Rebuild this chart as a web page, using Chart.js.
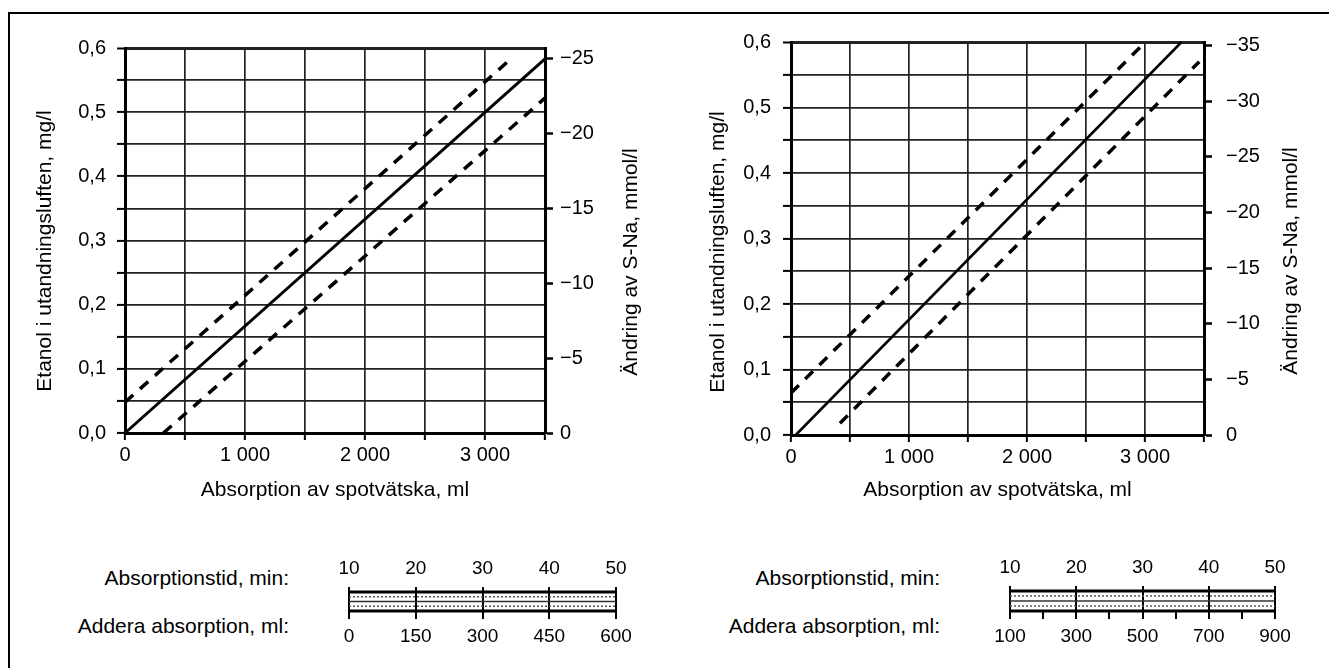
<!DOCTYPE html>
<html lang="sv">
<head>
<meta charset="utf-8">
<script src="https://cdn.jsdelivr.net/npm/chart.js@4.4.1/dist/chart.umd.min.js"></script>
<style>
  body { margin: 0; width: 1329px; height: 668px; background: #fff; position: relative; overflow: hidden;
         font-family: 'Liberation Sans', Arial, sans-serif; }
  .frame { position: absolute; left: 8px; top: 12px; width: 1340px; height: 680px; border: 2px solid #000; box-sizing: border-box; }
  .box { position: absolute; }
  .lbl { position: absolute; font-size: 21px; line-height: 24px; color: #000; text-align: right; white-space: nowrap; }
</style>
</head>
<body>
<div class="frame"></div>
<div class="box" style="left:0;top:0;width:660px;height:520px"><canvas id="chartA"></canvas></div>
<div class="box" style="left:666px;top:0;width:663px;height:520px"><canvas id="chartB"></canvas></div>
<div class="box" style="left:320px;top:530px;width:330px;height:135px"><canvas id="scaleA"></canvas></div>
<div class="box" style="left:980px;top:530px;width:330px;height:135px"><canvas id="scaleB"></canvas></div>
<div class="lbl" style="left:0;width:289px;top:566px">Absorptionstid, min:</div>
<div class="lbl" style="left:0;width:289px;top:614px">Addera absorption, ml:</div>
<div class="lbl" style="left:660px;width:280px;top:566px">Absorptionstid, min:</div>
<div class="lbl" style="left:660px;width:280px;top:614px">Addera absorption, ml:</div>
<script>
// x axis (ml) - labels every 1000, grid every 500
const mlTicks = [0, 1000, 2000, 3000];
const mlLabels = ['0', '1 000', '2 000', '3 000'];
const mlGrid = [0, 500, 1000, 1500, 2000, 2500, 3000, 3500];

// left y axis (mg/l)
const etanolTicks = [0, 0.1, 0.2, 0.3, 0.4, 0.5, 0.6];
const etanolLabels = ['0,0', '0,1', '0,2', '0,3', '0,4', '0,5', '0,6'];
const etanolGrid = [0, 0.05, 0.1, 0.15, 0.2, 0.25, 0.3, 0.35, 0.4, 0.45, 0.5, 0.55, 0.6];

// right y axis (mmol/l)
const snaTicksA = [0, -5, -10, -15, -20, -25];
const snaLabelsA = ['0', '\u22125', '\u221210', '\u221215', '\u221220', '\u221225'];
const snaTicksB = [0, -5, -10, -15, -20, -25, -30, -35];
const snaLabelsB = ['0', '\u22125', '\u221210', '\u221215', '\u221220', '\u221225', '\u221230', '\u221235'];
const snaTopA = -25.7;
const snaTopB = -35.3;

// lines, left chart
const solidA = [{ x: 0, y: 0 }, { x: 3500, y: 0.583 }];
const upperA = [{ x: 0, y: 0.048 }, { x: 3215, y: 0.583 }];
const lowerA = [{ x: 320, y: 0 }, { x: 3500, y: 0.522 }];

// lines, right chart
const solidB = [{ x: 40, y: 0 }, { x: 3310, y: 0.6 }];
const upperB = [{ x: 0, y: 0.064 }, { x: 2960, y: 0.592 }];
const lowerB = [{ x: 415, y: 0.018 }, { x: 3460, y: 0.57 }];

// nomogram scales under the charts
const timeTicks = [10, 20, 30, 40, 50];
const timeLabels = ['10', '20', '30', '40', '50'];
const addTicksA = [0, 150, 300, 450, 600];
const addLabelsA = ['0', '150', '300', '450', '600'];
const addGridA = [0, 150, 300, 450, 600];
const addTicksB = [100, 300, 500, 700, 900];
const addLabelsB = ['100', '300', '500', '700', '900'];
const addGridB = [100, 200, 300, 400, 500, 600, 700, 800, 900];
const bandLevels = [0, 1, 2, 3, 4];

Chart.defaults.font.family = "'Liberation Sans', Arial, sans-serif";
Chart.defaults.color = '#000';

function labelFor(ticks, labels, v) {
    const i = ticks.findIndex(t => Math.abs(t - v) < 1e-9);
    return i >= 0 ? labels[i] : '';
}

function setTicks(list) {
    return axis => { axis.ticks = list.map(v => ({ value: v })); };
}

function sideTitles(items) {
    return {
        id: 'sideTitles',
        afterDraw(chart) {
            const ctx = chart.ctx;
            ctx.save();
            ctx.font = "21px 'Liberation Sans', Arial, sans-serif";
            ctx.fillStyle = '#000';
            ctx.textAlign = 'center';
            ctx.textBaseline = 'middle';
            items.forEach(t => {
                ctx.save();
                ctx.translate(t.x, t.y);
                ctx.rotate(-Math.PI / 2);
                ctx.fillText(t.text, 0, 0);
                ctx.restore();
            });
            ctx.restore();
        }
    };
}

function lineSet(data, dashed, width) {
    return {
        data: data,
        borderColor: '#000',
        borderWidth: width,
        borderDash: dashed ? [11, 9] : [],
        pointRadius: 0,
        fill: false,
        clip: false
    };
}

function buildMain(id, c) {
    return new Chart(document.getElementById(id), {
        type: 'line',
        data: {
            datasets: [
                lineSet(c.solid, false, c.solidWidth),
                lineSet(c.upper, true, 3.5),
                lineSet(c.lower, true, 3.5)
            ]
        },
        options: {
            responsive: true,
            maintainAspectRatio: false,
            animation: false,
            layout: { padding: { top: c.top, left: 0, right: 0, bottom: 0 } },
            plugins: { legend: { display: false }, tooltip: { enabled: false } },
            scales: {
                x: {
                    type: 'linear', min: 0, max: 3500,
                    afterBuildTicks: setTicks(mlGrid),
                    afterFit: a => { a.height = c.xHeight; },
                    grid: { color: '#222', lineWidth: 1.7, tickLength: 7, tickColor: '#000', tickWidth: 2 },
                    border: { color: '#000', width: 3 },
                    ticks: { autoSkip: false, maxRotation: 0, padding: 3, font: { size: 20 },
                             callback: v => labelFor(mlTicks, mlLabels, v) },
                    title: { display: true, text: 'Absorption av spotvätska, ml', font: { size: 21 },
                             padding: { top: 0, bottom: 17 } }
                },
                y: {
                    position: 'left', min: 0, max: 0.6,
                    afterBuildTicks: setTicks(etanolGrid),
                    afterFit: a => { a.width = c.leftWidth; },
                    grid: {
                        color: '#222', tickColor: '#000', tickLength: 8, tickWidth: 2,
                        lineWidth: ctx => (ctx.tick && Math.abs(ctx.tick.value - 0.6) < 1e-9) ? 3 : 1.8
                    },
                    border: { color: '#000', width: 3 },
                    ticks: { padding: c.leftPad, font: { size: 20 },
                             callback: v => labelFor(etanolTicks, etanolLabels, v) }
                },
                y2: {
                    position: 'right', min: c.snaTop, max: 0, reverse: true,
                    afterBuildTicks: setTicks(c.snaTicks),
                    afterFit: a => { a.width = c.rightWidth; },
                    grid: { drawOnChartArea: false, color: '#000', tickLength: 8, tickWidth: 2.5 },
                    border: { color: '#000', width: 3 },
                    ticks: { padding: c.rightPad, font: { size: 20 },
                             callback: v => labelFor(c.snaTicks, c.snaLabels, v) }
                }
            }
        },
        plugins: [sideTitles(c.titles)]
    });
}

function buildScale(id, c) {
    const widths = [3, 1.5, 1.5, 1.5, 3];
    const dashes = [[], [2, 2], [], [2, 2], []];
    const colors = ['#000', '#555', '#333', '#555', '#000'];
    return new Chart(document.getElementById(id), {
        type: 'line',
        data: {
            datasets: bandLevels.map((lv, i) => ({
                data: [{ x: c.min, y: lv }, { x: c.max, y: lv }],
                borderColor: colors[i], borderWidth: widths[i], borderDash: dashes[i],
                pointRadius: 0, fill: false, clip: false
            }))
        },
        options: {
            responsive: true,
            maintainAspectRatio: false,
            animation: false,
            layout: { padding: { top: 0, left: c.padL, right: c.padR, bottom: 0 } },
            plugins: { legend: { display: false }, tooltip: { enabled: false } },
            scales: {
                x: {
                    type: 'linear', position: 'bottom', min: c.min, max: c.max,
                    afterBuildTicks: setTicks(c.grid),
                    afterFit: a => { a.height = c.bottomHeight; },
                    grid: { drawOnChartArea: false, color: '#000', lineWidth: 2, tickLength: 8 },
                    border: { display: false },
                    ticks: { autoSkip: false, maxRotation: 0, padding: 6, font: { size: 19 },
                             callback: v => labelFor(c.ticks, c.labels, v) }
                },
                x2: {
                    type: 'linear', position: 'top', min: 10, max: 50,
                    afterBuildTicks: setTicks(timeTicks),
                    afterFit: a => { a.height = c.topHeight; },
                    grid: { drawOnChartArea: true, color: '#000', lineWidth: 2, tickLength: 5 },
                    border: { display: false },
                    ticks: { autoSkip: false, maxRotation: 0, padding: 7, font: { size: 19 },
                             callback: v => labelFor(timeTicks, timeLabels, v) }
                },
                y: { display: false, min: 0, max: 4 }
            }
        }
    });
}

buildMain('chartA', {
    solid: solidA, upper: upperA, lower: lowerA, solidWidth: 3,
    top: 48, xHeight: 87, leftWidth: 125, rightWidth: 115, leftPad: 11, rightPad: 7,
    snaTop: snaTopA, snaTicks: snaTicksA, snaLabels: snaLabelsA,
    titles: [
        { text: 'Etanol i utandningsluften, mg/l', x: 45, y: 251 },
        { text: 'Ändring av S-Na, mmol/l', x: 631, y: 262 }
    ]
});

buildMain('chartB', {
    solid: solidB, upper: upperB, lower: lowerB, solidWidth: 2.5,
    top: 42, xHeight: 85, leftWidth: 125, rightWidth: 125, leftPad: 12, rightPad: 14,
    snaTop: snaTopB, snaTicks: snaTicksB, snaLabels: snaLabelsB,
    titles: [
        { text: 'Etanol i utandningsluften, mg/l', x: 52, y: 252 },
        { text: 'Ändring av S-Na, mmol/l', x: 625, y: 261 }
    ]
});

buildScale('scaleA', {
    min: 0, max: 600, grid: addGridA, ticks: addTicksA, labels: addLabelsA,
    padL: 29, padR: 34, topHeight: 62, bottomHeight: 54
});

buildScale('scaleB', {
    min: 100, max: 900, grid: addGridB, ticks: addTicksB, labels: addLabelsB,
    padL: 30, padR: 35, topHeight: 61, bottomHeight: 54
});
</script>
</body>
</html>
